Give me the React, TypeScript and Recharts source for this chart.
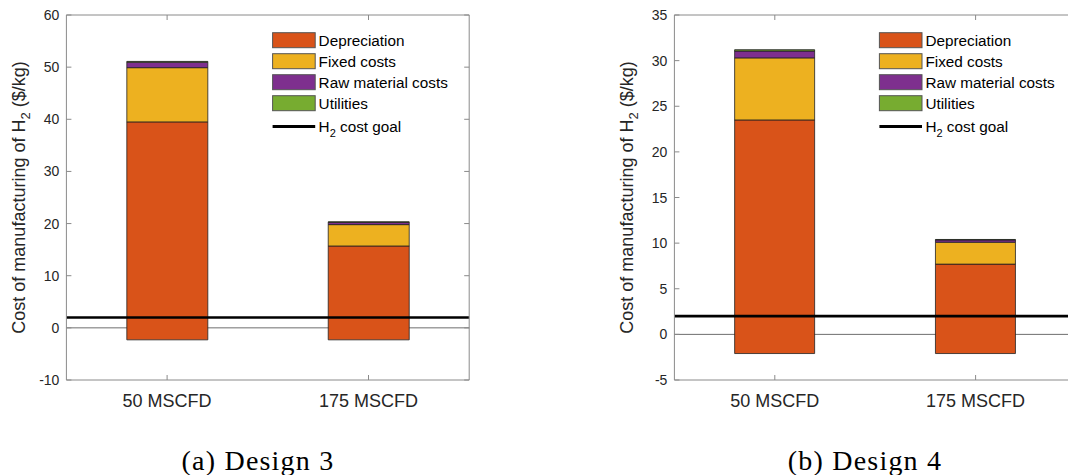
import { BarChart, Bar, XAxis, YAxis, ReferenceLine, CartesianGrid } from "recharts";

const categories = ["50 MSCFD", "175 MSCFD"];

// Design 3, $/kg. "base" is where each bar starts (below zero), the rest stack on top of it.
const design3Base = [-2.3, -2.3];
const design3Depreciation = [41.8, 18.0];
const design3Fixed = [10.4, 4.1];
const design3RawMaterial = [1.05, 0.45];
const design3Utilities = [0.15, 0.08];
const design3Ticks = [-10, 0, 10, 20, 30, 40, 50, 60];

// Design 4, $/kg
const design4Base = [-2.1, -2.1];
const design4Depreciation = [25.6, 9.8];
const design4Fixed = [6.8, 2.4];
const design4RawMaterial = [0.75, 0.25];
const design4Utilities = [0.15, 0.05];
const design4Ticks = [-5, 0, 5, 10, 15, 20, 25, 30, 35];

const h2CostGoal = 2;

const SERIES = [
  { key: "depreciation", name: "Depreciation", color: "#D95319" },
  { key: "fixed", name: "Fixed costs", color: "#EDB120" },
  { key: "raw", name: "Raw material costs", color: "#7E2F8E" },
  { key: "utilities", name: "Utilities", color: "#77AC30" },
];

const FONT = "'Liberation Sans', Arial, Helvetica, sans-serif";
const FRAME = "#8a8a8a";
const TEXT = "#262626";
const EDGE = "#222";
const TICK_LEN = 5;
const HEIGHT = 475;
const PLOT_TOP = 15;
const PLOT_BOTTOM = 380;

interface PanelProps {
  left: number;
  width: number;
  plotLeft: number;
  plotRight: number;
  base: number[];
  depreciation: number[];
  fixed: number[];
  raw: number[];
  utilities: number[];
  ticks: number[];
  caption: string;
  captionX: number;
}

function LeftTick(props: any) {
  const { x, y, payload } = props;
  return (
    <g>
      <text x={x} y={y} dy={5} textAnchor="end" fontSize={14} fill={TEXT} fontFamily={FONT}>
        {payload.value}
      </text>
      <line x1={x + 7} x2={x + 7 + TICK_LEN} y1={y} y2={y} stroke={FRAME} />
    </g>
  );
}

function RightTick(props: any) {
  const { x, y } = props;
  return <line x1={x} x2={x - TICK_LEN} y1={y} y2={y} stroke={FRAME} />;
}

function BottomTick(props: any) {
  const { x, y, payload } = props;
  return (
    <g>
      <text x={x} y={y} dy={13} textAnchor="middle" fontSize={18} fill={TEXT} fontFamily={FONT}>
        {payload.value}
      </text>
      <line x1={x} x2={x} y1={y - 14} y2={y - 14 - TICK_LEN} stroke={FRAME} />
    </g>
  );
}

function TopTick(props: any) {
  const { x, y } = props;
  return <line x1={x} x2={x} y1={y} y2={y + TICK_LEN} stroke={FRAME} />;
}

function YTitle(props: any) {
  const { viewBox } = props;
  const cx = viewBox.x + viewBox.width - 47;
  const cy = viewBox.y + viewBox.height / 2;
  return (
    <text
      transform={`translate(${cx},${cy}) rotate(-90)`}
      textAnchor="middle"
      dy={6}
      fontSize={18}
      fill={TEXT}
      fontFamily={FONT}
    >
      Cost of manufacturing of H
      <tspan fontSize={13} dy={5}>2</tspan>
      <tspan dy={-5}> ($/kg)</tspan>
    </text>
  );
}

function CostLegend({ x }: { x: number }) {
  const rowTop = 32.7;
  const rowStep = 21;
  return (
    <g fontFamily={FONT} fontSize={15.3} fill="#000">
      {SERIES.map((s, i) => (
        <g key={s.key}>
          <rect
            x={x}
            y={rowTop + i * rowStep}
            width={42.6}
            height={15}
            fill={s.color}
            stroke="#555"
            strokeWidth={1}
          />
          <text x={x + 46} y={rowTop + i * rowStep + 13}>
            {s.name}
          </text>
        </g>
      ))}
      <line x1={x} x2={x + 42.6} y1={126.5} y2={126.5} stroke="#000" strokeWidth={3} />
      <text x={x + 46} y={131.5}>
        H<tspan fontSize={11} dy={5}>2</tspan>
        <tspan dy={-5}> cost goal</tspan>
      </text>
    </g>
  );
}

function CostPanel(p: PanelProps) {
  const data = categories.map((category, i) => ({
    category,
    base: p.base[i],
    depreciation: p.depreciation[i],
    fixed: p.fixed[i],
    raw: p.raw[i],
    utilities: p.utilities[i],
  }));
  const domain = [p.ticks[0], p.ticks[p.ticks.length - 1]];

  return (
    <div style={{ position: "absolute", left: p.left, top: 0, width: p.width, height: HEIGHT }}>
      <BarChart
        width={p.width}
        height={HEIGHT}
        data={data}
        margin={{ top: PLOT_TOP - 1, right: p.width - p.plotRight - 1, bottom: 0, left: 0 }}
        barCategoryGap="30%"
      >
        {/* bar baseline at zero, kept behind the bars */}
        <CartesianGrid vertical={false} horizontalValues={[0]} stroke="#6e6e6e" strokeDasharray="" />
        <XAxis
          dataKey="category"
          height={HEIGHT - PLOT_BOTTOM}
          interval={0}
          tickSize={0}
          tickMargin={14}
          tickLine={false}
          axisLine={{ stroke: FRAME }}
          tick={<BottomTick />}
        />
        <XAxis
          xAxisId="top"
          dataKey="category"
          orientation="top"
          height={1}
          interval={0}
          tickSize={0}
          tickMargin={0}
          tickLine={false}
          axisLine={{ stroke: FRAME }}
          tick={<TopTick />}
        />
        <YAxis
          type="number"
          width={p.plotLeft}
          domain={domain}
          ticks={p.ticks}
          interval={0}
          allowDataOverflow
          tickSize={0}
          tickMargin={7}
          tickLine={false}
          axisLine={{ stroke: FRAME }}
          tick={<LeftTick />}
          label={{ content: <YTitle /> }}
        />
        <YAxis
          yAxisId="right"
          type="number"
          orientation="right"
          width={1}
          domain={domain}
          ticks={p.ticks}
          interval={0}
          allowDataOverflow
          tickSize={0}
          tickMargin={0}
          tickLine={false}
          axisLine={{ stroke: FRAME }}
          tick={<RightTick />}
        />
        <Bar dataKey="base" stackId="cost" fill="transparent" stroke="none" legendType="none" isAnimationActive={false} />
        {SERIES.map((s) => (
          <Bar
            key={s.key}
            dataKey={s.key}
            name={s.name}
            stackId="cost"
            fill={s.color}
            stroke={EDGE}
            strokeWidth={0.8}
            isAnimationActive={false}
          />
        ))}
        <ReferenceLine y={h2CostGoal} stroke="#000" strokeWidth={2.6} />
      </BarChart>
      <svg
        width={p.width}
        height={HEIGHT}
        style={{ position: "absolute", left: 0, top: 0, pointerEvents: "none" }}
      >
        <CostLegend x={p.plotRight - 196.6} />
        <text
          x={p.captionX}
          y={469.5}
          textAnchor="middle"
          fontSize={28}
          letterSpacing={1.2}
          fontFamily="'Liberation Serif', 'Times New Roman', serif"
          fill="#000"
        >
          {p.caption}
        </text>
      </svg>
    </div>
  );
}

export default function App() {
  return (
    <div
      style={{
        position: "absolute",
        left: 0,
        top: 0,
        width: 1068,
        height: HEIGHT,
        overflow: "hidden",
        background: "#fff",
      }}
    >
      <CostPanel
        left={0}
        width={534}
        plotLeft={66.4}
        plotRight={469.2}
        base={design3Base}
        depreciation={design3Depreciation}
        fixed={design3Fixed}
        raw={design3RawMaterial}
        utilities={design3Utilities}
        ticks={design3Ticks}
        caption="(a) Design 3"
        captionX={258}
      />
      <CostPanel
        left={534}
        width={552}
        plotLeft={140.4}
        plotRight={542}
        base={design4Base}
        depreciation={design4Depreciation}
        fixed={design4Fixed}
        raw={design4RawMaterial}
        utilities={design4Utilities}
        ticks={design4Ticks}
        caption="(b) Design 4"
        captionX={331}
      />
    </div>
  );
}
